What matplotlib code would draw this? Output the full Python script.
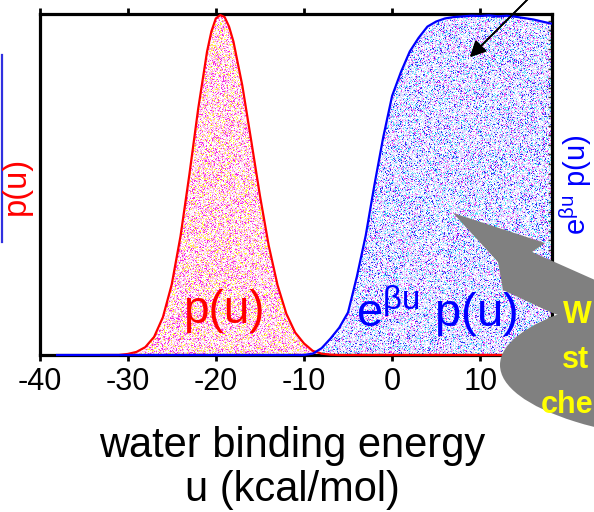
import numpy as np
import matplotlib
matplotlib.use("Agg")
import matplotlib.pyplot as plt
from matplotlib.patches import Polygon, Ellipse
from matplotlib.lines import Line2D

plt.rcParams['font.family'] = ['Liberation Sans', 'DejaVu Sans']
plt.rcParams['axes.unicode_minus'] = False
plt.rcParams['mathtext.default'] = 'regular'

# p(u): distribution of water binding energies (peak normalised to 1)
u_p = [-33, -31, -30, -29, -28, -27, -26, -25, -24, -23, -22, -21, -20.5, -20,
       -19.5, -19, -18.5, -18, -17, -16, -15, -14, -13, -12, -11, -10, -9, -8,
       -7, -6, 18]
p_u = [0.0, 0.0, 0.003, 0.009, 0.023, 0.053, 0.111, 0.207, 0.349, 0.529, 0.722,
       0.889, 0.949, 0.987, 0.997, 0.991, 0.963, 0.919, 0.791, 0.631, 0.468,
       0.321, 0.205, 0.121, 0.066, 0.034, 0.012, 0.004, 0.001, 0.0, 0.0]

# e^{beta u} p(u), scaled to the same height
u_w = [-38, -10, -9, -8, -7, -6, -5, -4, -3, -2, -1, 0, 1, 2, 3, 4, 5, 6, 7, 8,
       9, 10, 11, 12, 13, 14, 15, 16, 17, 18]
w_u = [0.0, 0.0, 0.004, 0.02, 0.048, 0.08, 0.125, 0.23, 0.35, 0.50, 0.64, 0.76,
       0.83, 0.89, 0.93, 0.963, 0.978, 0.987, 0.991, 0.993, 0.995, 0.994, 0.996,
       0.993, 0.995, 0.992, 0.988, 0.984, 0.978, 0.972]

x_ticks = [-40, -30, -20, -10, 0, 10]
x_tick_labels = ['-40', '-30', '-20', '-10', '0', '10']
x_limits = (-40, 18.1)

W, H = 594, 512
fig = plt.figure(figsize=(W / 100, H / 100), dpi=100)
fig.patch.set_facecolor('white')


def fx(x):
    return x / W


def fy(y):
    return 1 - y / H


ax = fig.add_axes([fx(39.5), fy(355), (551.7 - 39.5) / W, (355 - 14) / H])
ax.set_xlim(*x_limits)
ax.set_ylim(0, 1)
for s in ax.spines.values():
    s.set_linewidth(2.3)
    s.set_zorder(2.5)


def stipple(colors, weights, salt, shape=(341, 512)):
    """Deterministic dotted texture made of a few printer-like colours."""
    i, j = np.mgrid[0:shape[0], 0:shape[1]].astype(np.int64)
    h = (i * 374761393 + j * 668265263 + salt) & 0xFFFFFFFF
    h = ((h ^ (h >> 13)) * 1274126177) & 0xFFFFFFFF
    h = h ^ (h >> 16)
    r = (h % 10007) / 10007.0
    cum = np.cumsum(weights) / np.sum(weights)
    idx = np.searchsorted(cum, r)
    pal = np.array(colors, dtype=float) / 255.0
    return pal[idx]


red_tex = stipple([(255, 255, 255), (245, 40, 230), (255, 170, 230), (255, 245, 60),
                   (255, 220, 238)],
                  [34, 12, 20, 12, 22], 12345)
blue_tex = stipple([(255, 255, 255), (50, 50, 245), (240, 80, 240), (80, 225, 250),
                    (220, 220, 255)],
                   [34, 8, 9, 10, 39], 67890)

# filled areas under both curves, textured
fill_w = ax.fill_between(u_w, w_u, 0, facecolor='none', edgecolor='none')
fill_p = ax.fill_between(u_p, p_u, 0, facecolor='none', edgecolor='none')
ext = (x_limits[0], x_limits[1], 0, 1)
im_w = ax.imshow(blue_tex, extent=ext, aspect='auto', interpolation='nearest',
                 origin='lower', zorder=1)
im_w.set_clip_path(fill_w.get_paths()[0], ax.transData)
im_p = ax.imshow(red_tex, extent=ext, aspect='auto', interpolation='nearest',
                 origin='lower', zorder=1.1)
im_p.set_clip_path(fill_p.get_paths()[0], ax.transData)

ax.plot(u_p, p_u, color='#ff0000', lw=1.6, zorder=3, clip_on=False)
ax.plot(u_w, w_u, color='#0000ff', lw=1.6, zorder=3.1, clip_on=False)

ax.set_xticks(x_ticks, x_tick_labels)
ax.tick_params(axis='x', direction='out', length=4, width=2, labelsize=22,
               pad=5, top=True, labeltop=False)
ax.set_yticks(np.arange(0.028, 1.0, 0.028))
ax.tick_params(axis='y', left=False, labelleft=False, right=True,
               direction='in', length=3, width=1, color='#404040')

ax.text(-19.1, 0.13, 'p(u)', color='#ff0000', fontsize=33, ha='center',
        va='center', zorder=4)
ax.text(5.1, 0.13, r'e$^{βu}$ p(u)', color='#0000ff', fontsize=34,
        ha='center', va='center', zorder=4)

# axis labels
fig.text(fx(16), fy(186), 'p(u)', rotation=90, color='#ff0000', fontsize=23.5,
         ha='center', va='center')
fig.text(fx(576), fy(185), r'e$^{βu}$ p(u)', rotation=90,
         color='#0000ff', fontsize=21, ha='center', va='center')
fig.text(fx(292), fy(468), 'water binding energy\nu (kcal/mol)', color='black',
         fontsize=30, ha='center', va='center', linespacing=1.12)

# thin blue rule at the left edge
fig.add_artist(Line2D([fx(1.5), fx(1.5)], [fy(55), fy(242)], color='#3030e0',
                      lw=1.6))

# black pointer arrow from the top
fig.add_artist(plt.annotate('', xy=(fx(470), fy(57)), xycoords='figure fraction',
                            xytext=(fx(535), fy(-8)), textcoords='figure fraction',
                            arrowprops=dict(arrowstyle='-|>', color='black', lw=1.2,
                                            mutation_scale=24, shrinkA=0, shrinkB=0)))

# grey callout: block arrow plus bubble
arrow_pts = [(453, 213), (545, 243), (532, 252), (640, 300), (640, 345),
             (550, 312), (503, 290), (498, 262)]
fig.add_artist(Polygon([(fx(x), fy(y)) for x, y in arrow_pts], closed=True,
                       transform=fig.transFigure, facecolor='#808080',
                       edgecolor='none', zorder=5))
fig.add_artist(Ellipse((fx(756), fy(365)), 512 / W, 160 / H,
                       transform=fig.transFigure, facecolor='#808080',
                       edgecolor='none', zorder=5))
for txt, x, y in [('W', 563, 323), ('st', 562, 368), ('che', 541, 413)]:
    fig.text(fx(x), fy(y), txt, color='#ffff00', fontsize=22, fontweight='bold',
             ha='left', va='baseline', zorder=6)

fig.savefig('out.png', dpi=100)
